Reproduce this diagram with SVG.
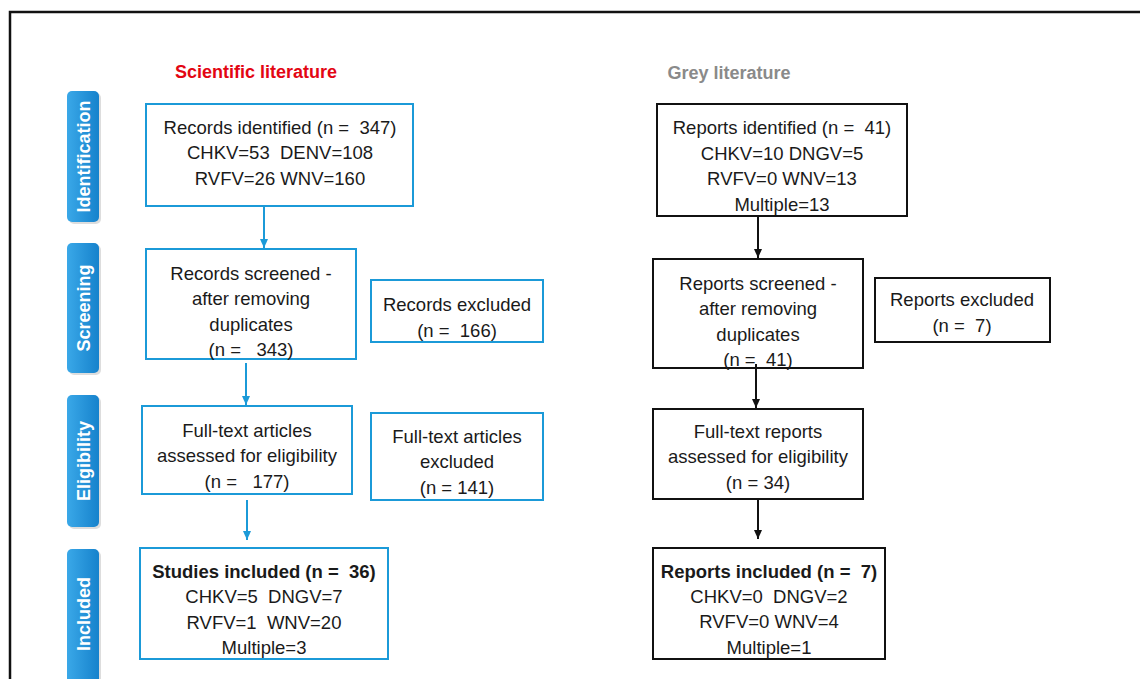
<svg xmlns="http://www.w3.org/2000/svg" width="1140" height="679" viewBox="0 0 1140 679" xml:space="preserve">
<style>
text{white-space:pre}
.t{font-family:"Liberation Sans",Arial,sans-serif;font-size:18.5px;fill:#1a1a1a;text-anchor:middle}
.b{font-weight:bold}
.bl{fill:#fff;stroke:#1b9ad8;stroke-width:2}
.bk{fill:#fff;stroke:#111;stroke-width:2}
.tab{fill:url(#tg)}
.tabt{font-family:"Liberation Sans",Arial,sans-serif;font-size:18px;font-weight:bold;fill:#fff;text-anchor:middle}
.cb{stroke:#1b9ad8;stroke-width:2;fill:none}
.ck{stroke:#111;stroke-width:2;fill:none}
.hd{font-family:"Liberation Sans",Arial,sans-serif;font-size:18px;font-weight:bold;text-anchor:middle}
</style>
<defs>
<linearGradient id="tg" x1="0" y1="0" x2="1" y2="0">
<stop offset="0" stop-color="#3aa8e8"/>
<stop offset="1" stop-color="#1682cc"/>
</linearGradient>
<marker id="ab" markerWidth="10" markerHeight="10" refX="9" refY="5" orient="auto" markerUnits="userSpaceOnUse">
<path d="M0,1 L9,5 L0,9 Z" fill="#1b9ad8"/>
</marker>
<marker id="ak" markerWidth="10" markerHeight="10" refX="9" refY="5" orient="auto" markerUnits="userSpaceOnUse">
<path d="M0,1 L9,5 L0,9 Z" fill="#111"/>
</marker>
</defs>
<rect width="1140" height="679" fill="#fff"/>
<path d="M10,679 V12 H1140" fill="none" stroke="#111" stroke-width="2.5"/>

<g id="tabs">
<rect x="69" y="93" width="32" height="131" rx="5" fill="#bbb" opacity="0.5"/>
<rect class="tab" x="67" y="91" width="32" height="131" rx="5"/>
<text class="tabt" transform="translate(89.5,156.5) rotate(-90)">Identification</text>
<rect x="69" y="245" width="32" height="130" rx="5" fill="#bbb" opacity="0.5"/>
<rect class="tab" x="67" y="243" width="32" height="130" rx="5"/>
<text class="tabt" transform="translate(89.5,308) rotate(-90)">Screening</text>
<rect x="69" y="397" width="32" height="132" rx="5" fill="#bbb" opacity="0.5"/>
<rect class="tab" x="67" y="395" width="32" height="132" rx="5"/>
<text class="tabt" transform="translate(89.5,461) rotate(-90)">Eligibility</text>
<rect x="69" y="551" width="32" height="140" rx="5" fill="#bbb" opacity="0.5"/>
<rect class="tab" x="67" y="549" width="32" height="140" rx="5"/>
<text class="tabt" transform="translate(89.5,614) rotate(-90)">Included</text>
</g>

<text class="hd" x="256" y="78" fill="#e30613" font-size="18.5">Scientific literature</text>
<text class="hd" x="729" y="79" fill="#8a8a8a">Grey literature</text>

<g id="sci-identified">
<rect class="bl" x="146" y="104" width="267" height="102"/>
<text class="t" x="280" y="134">Records identified (n =  347)</text>
<text class="t" x="280" y="159">CHKV=53  DENV=108</text>
<text class="t" x="280" y="185">RVFV=26 WNV=160</text>
</g>
<g id="sci-screened">
<rect class="bl" x="146" y="249" width="210" height="110"/>
<text class="t" x="251" y="280">Records screened -</text>
<text class="t" x="251" y="305">after removing</text>
<text class="t" x="251" y="331">duplicates</text>
<text class="t" x="251" y="356">(n =   343)</text>
</g>
<g id="sci-excluded">
<rect class="bl" x="371" y="280" width="172" height="62"/>
<text class="t" x="457" y="311">Records excluded</text>
<text class="t" x="457" y="337">(n =  166)</text>
</g>
<g id="sci-fulltext">
<rect class="bl" x="142" y="406" width="210" height="88"/>
<text class="t" x="247" y="437">Full-text articles</text>
<text class="t" x="247" y="462">assessed for eligibility</text>
<text class="t" x="247" y="488">(n =   177)</text>
</g>
<g id="sci-ft-excluded">
<rect class="bl" x="371" y="413" width="172" height="87"/>
<text class="t" x="457" y="443">Full-text articles</text>
<text class="t" x="457" y="468">excluded</text>
<text class="t" x="457" y="494">(n = 141)</text>
</g>
<g id="sci-included">
<rect class="bl" x="140" y="548" width="248" height="111"/>
<text class="t b" x="264" y="578">Studies included (n =  36)</text>
<text class="t" x="264" y="603">CHKV=5  DNGV=7</text>
<text class="t" x="264" y="629">RVFV=1  WNV=20</text>
<text class="t" x="264" y="654">Multiple=3</text>
</g>

<g id="grey-identified">
<rect class="bk" x="657" y="104" width="250" height="112"/>
<text class="t" x="782" y="134">Reports identified (n =  41)</text>
<text class="t" x="782" y="160">CHKV=10 DNGV=5</text>
<text class="t" x="782" y="185">RVFV=0 WNV=13</text>
<text class="t" x="782" y="211">Multiple=13</text>
</g>
<g id="grey-screened">
<rect class="bk" x="653" y="259" width="210" height="109"/>
<text class="t" x="758" y="290">Reports screened -</text>
<text class="t" x="758" y="315">after removing</text>
<text class="t" x="758" y="341">duplicates</text>
<text class="t" x="758" y="366">(n =  41)</text>
</g>
<g id="grey-excluded">
<rect class="bk" x="875" y="278" width="175" height="64"/>
<text class="t" x="962" y="306">Reports excluded</text>
<text class="t" x="962" y="332">(n =  7)</text>
</g>
<g id="grey-fulltext">
<rect class="bk" x="653" y="409" width="210" height="90"/>
<text class="t" x="758" y="438">Full-text reports</text>
<text class="t" x="758" y="463">assessed for eligibility</text>
<text class="t" x="758" y="489">(n = 34)</text>
</g>
<g id="grey-included">
<rect class="bk" x="653" y="548" width="232" height="111"/>
<text class="t b" x="769" y="578">Reports included (n =  7)</text>
<text class="t" x="769" y="603">CHKV=0  DNGV=2</text>
<text class="t" x="769" y="628">RVFV=0 WNV=4</text>
<text class="t" x="769" y="654">Multiple=1</text>
</g>

<g id="connectors">
<line class="cb" x1="264" y1="207" x2="264" y2="248" marker-end="url(#ab)"/>
<line class="cb" x1="246" y1="363" x2="246" y2="405" marker-end="url(#ab)"/>
<line class="cb" x1="247" y1="500" x2="247" y2="540" marker-end="url(#ab)"/>
<line class="ck" x1="758" y1="217" x2="758" y2="258" marker-end="url(#ak)"/>
<line class="ck" x1="756" y1="364" x2="756" y2="408" marker-end="url(#ak)"/>
<line class="ck" x1="758" y1="500" x2="758" y2="539" marker-end="url(#ak)"/>
</g>
</svg>
